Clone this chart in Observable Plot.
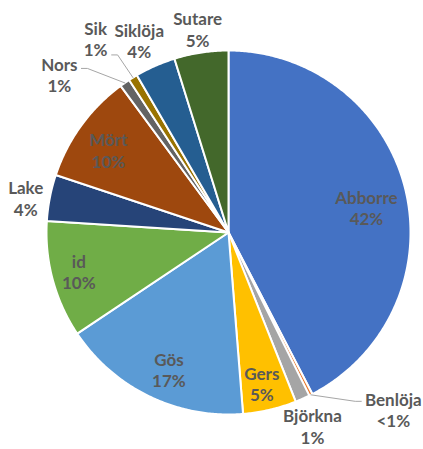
<!DOCTYPE html>
<html>
<head>
<meta charset="utf-8">
<script src="https://cdn.jsdelivr.net/npm/d3@7"></script>
<script src="https://cdn.jsdelivr.net/npm/@observablehq/plot@0.6"></script>
<style>
  html, body { margin: 0; padding: 0; background: #fff; }
  #chart svg { display: block; }
</style>
</head>
<body>
<div id="chart"></div>
<script>
// ---- data ----
const names  = ["Abborre","Benlöja","Björkna","Gers","Gös","id","Lake","Mört","Nors","Sik","Siklöja","Sutare"];
const values = [42.4, 0.3, 1.3, 4.75, 16.9, 10.4, 4.1, 9.8, 0.9, 0.8, 3.6, 4.8];
const colors = ["#4472C4","#ED7D31","#A5A5A5","#FFC000","#5B9BD5","#70AD47","#264478","#9E480E","#636363","#997300","#255E91","#43682B"];

// ---- label layout (angle offset from slice middle in degrees, radius as share of pie radius) ----
const labelAngleOffset = [3.6, -16, 0.6, 0.7, -2.3, 0.4, -1.4, -1.6, -12.3, -2.8, -1.2, 0];
const labelRadius      = [0.77, 1.33, 1.16, 0.85, 0.82, 0.85, 1.13, 0.80, 1.27, 1.29, 1.163, 1.13];
// leader lines: elbow and end offsets (px) relative to the label centre
const leaderNames = ["Nors","Sik","Benlöja"];
const leaderElbow = [[28,-6.5],[22,16],[-38,-8.5]];
const leaderEnd   = [[22,-6.5],[16,16],[-32,-8.5]];

const R = 182; // px per unit in data space
const total = d3.sum(values);
const pie = d3.pie().sort(null).value(d => d)(values);
const rad = d => d * Math.PI / 180;

// slice polygons (angles clockwise from top)
const slicePts = [];
pie.forEach((p, i) => {
  const a0 = p.startAngle, a1 = p.endAngle;
  slicePts.push({name: names[i], x: 0, y: 0});
  const n = Math.max(2, Math.ceil((a1 - a0) / rad(0.5)));
  for (let k = 0; k <= n; k++) {
    const a = a0 + (a1 - a0) * k / n;
    slicePts.push({name: names[i], x: Math.sin(a), y: Math.cos(a)});
  }
  slicePts.push({name: names[i], x: 0, y: 0});
});

const pctText = v => {
  const p = v / total * 100;
  return p < 0.5 ? "<1%" : Math.round(p) + "%";
};

const labels = pie.map((p, i) => {
  const mid = (p.startAngle + p.endAngle) / 2 + rad(labelAngleOffset[i]);
  return {name: names[i], x: labelRadius[i] * Math.sin(mid), y: labelRadius[i] * Math.cos(mid),
          text: names[i] + "\n" + pctText(values[i])};
});

const leaderPts = [];
leaderNames.forEach((nm, j) => {
  const i = names.indexOf(nm);
  const p = pie[i];
  const mid = (p.startAngle + p.endAngle) / 2;
  const L = labels[i];
  leaderPts.push({name: nm, x: Math.sin(mid), y: Math.cos(mid)});
  leaderPts.push({name: nm, x: L.x + leaderElbow[j][0] / R, y: L.y - leaderElbow[j][1] / R});
  leaderPts.push({name: nm, x: L.x + leaderEnd[j][0] / R, y: L.y - leaderEnd[j][1] / R});
});

const chart = Plot.plot({
  width: 423,
  height: 449,
  marginLeft: 46,
  marginRight: 13,
  marginTop: 50,
  marginBottom: 35,
  x: {domain: [-1, 1], axis: null},
  y: {domain: [-1, 1], axis: null},
  color: {domain: names, range: colors},
  style: {background: "#fff"},
  marks: [
    Plot.line(slicePts, {x: "x", y: "y", z: "name", fill: "name", stroke: "#fff", strokeWidth: 2, strokeLinejoin: "round", curve: "linear"}),
    Plot.line(leaderPts, {x: "x", y: "y", z: "name", stroke: "#A6A6A6", strokeWidth: 1}),
    Plot.text(labels, {x: "x", y: "y", text: "text", fill: "#595959", fontSize: 17, fontWeight: "bold",
                       fontFamily: "Lato, 'Open Sans', sans-serif", lineHeight: 1.25})
  ]
});
document.getElementById("chart").appendChild(chart);
</script>
</body>
</html>
